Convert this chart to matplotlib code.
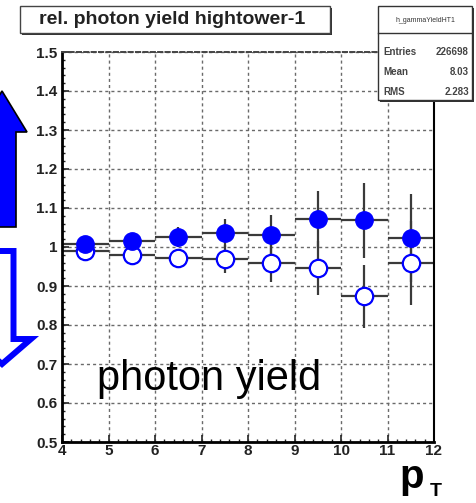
import matplotlib
matplotlib.use('Agg')
import matplotlib.pyplot as plt
from matplotlib.patches import Rectangle, Polygon
from matplotlib.ticker import MultipleLocator, FormatStrFormatter

plt.rcParams['font.family'] = ['Liberation Sans', 'DejaVu Sans']

# relative photon yield per pT bin (hightower-1)
pt_bins = [4.5, 5.5, 6.5, 7.5, 8.5, 9.5, 10.5, 11.5]
bin_half_width = [0.5] * 8
yield_up = [1.007, 1.015, 1.026, 1.035, 1.032, 1.071, 1.069, 1.022]
yield_up_err = [0.012, 0.015, 0.025, 0.036, 0.050, 0.072, 0.096, 0.113]
yield_down = [0.990, 0.980, 0.972, 0.970, 0.958, 0.946, 0.874, 0.959]
yield_down_err = [0.012, 0.015, 0.024, 0.036, 0.048, 0.070, 0.081, 0.107]

hist_name = 'h_gammaYieldHT1'
stat_labels = ['Entries', 'Mean', 'RMS']
stat_values = ['226698', '8.03', '2.283']

W, H = 476, 503
fig = plt.figure(figsize=(W / 100, H / 100), dpi=100)


def fx(px):
    return px / W


def fy(py):
    return 1 - py / H


ax = fig.add_axes([fx(62), fy(442), fx(434) - fx(62), fy(52) - fy(442)])
ax.set_xlim(4, 12)
ax.set_ylim(0.5, 1.5)

err_kw = dict(fmt='none', ecolor='#3a3a3a', elinewidth=1.6, capsize=0, zorder=2)
ax.errorbar(pt_bins, yield_up, xerr=bin_half_width, yerr=yield_up_err, **err_kw)
ax.errorbar(pt_bins, yield_down, xerr=bin_half_width, yerr=yield_down_err, **err_kw)
ax.plot(pt_bins, yield_down, linestyle='none', marker='o', markersize=12.5,
        markerfacecolor='white', markeredgecolor='#0000ff', markeredgewidth=1.6, zorder=3)
ax.plot(pt_bins, yield_up, linestyle='none', marker='o', markersize=12.5,
        markerfacecolor='#0000ff', markeredgecolor='#0000ff', zorder=4)

# ticks / grid
ax.xaxis.set_major_locator(MultipleLocator(1))
ax.xaxis.set_minor_locator(MultipleLocator(0.2))
ax.yaxis.set_major_locator(MultipleLocator(0.1))
ax.yaxis.set_minor_locator(MultipleLocator(0.02))
ax.yaxis.set_major_formatter(FormatStrFormatter('%g'))
ax.tick_params(which='both', direction='in', top=False, right=False, color='#222222')
ax.tick_params(which='major', length=5, width=1.2)
ax.tick_params(which='minor', length=2.5, width=1.0)
ax.tick_params(axis='y', pad=3.5)
ax.tick_params(axis='x', pad=1.5)
for lab in ax.get_xticklabels() + ax.get_yticklabels():
    lab.set_fontweight('bold')
    lab.set_fontsize(11)
    lab.set_color('#222222')
ax.grid(True, which='major', color='#6a6a6a', linestyle=(0, (2.2, 2.2)), linewidth=1.0)
ax.set_axisbelow(True)

ax.spines['left'].set_linewidth(2.0)
ax.spines['bottom'].set_linewidth(2.0)
ax.spines['right'].set_linewidth(1.5)
ax.spines['top'].set_linewidth(1.4)
ax.spines['top'].set_linestyle((0, (2.2, 1.6)))
ax.spines['top'].set_color('#444444')

# big labels
fig.text(fx(97), fy(390), 'photon yield', fontsize=30, ha='left', va='baseline', color='black')
fig.text(fx(399), fy(488), 'p', fontsize=29, fontweight='bold', ha='left', va='baseline')
fig.text(fx(430), fy(496), 'T', fontsize=14, fontweight='bold', ha='left', va='baseline')

# title box
fig.patches.append(Rectangle((fx(22), fy(35)), fx(332) - fx(22), fy(8) - fy(35),
                             transform=fig.transFigure, facecolor='#333333', edgecolor='none'))
fig.patches.append(Rectangle((fx(20), fy(33)), fx(330) - fx(20), fy(6) - fy(33),
                             transform=fig.transFigure, facecolor='white', edgecolor='#444444', lw=1.0))
fig.text(fx(172), fy(20), 'rel. photon yield hightower-1', fontsize=14, fontweight='bold',
         ha='center', va='center', color='#222222')

# stats box
fig.patches.append(Rectangle((fx(380), fy(102)), fx(474) - fx(380), fy(8) - fy(102),
                             transform=fig.transFigure, facecolor='#333333', edgecolor='none'))
fig.patches.append(Rectangle((fx(378), fy(100)), fx(472) - fx(378), fy(6) - fy(100),
                             transform=fig.transFigure, facecolor='white', edgecolor='#333333', lw=1.0))
fig.add_artist(plt.Line2D([fx(378), fx(472)], [fy(33), fy(33)], transform=fig.transFigure,
                          color='#333333', lw=1.0))
fig.text(fx(425), fy(20), hist_name, fontsize=5, ha='center', va='center', color='#333333')
for i, (lab, val) in enumerate(zip(stat_labels, stat_values)):
    yy = fy(52 + 20 * i)
    fig.text(fx(383), yy, lab, fontsize=7, fontweight='bold', ha='left', va='center', color='#444444')
    fig.text(fx(469), yy, val, fontsize=7, fontweight='bold', ha='right', va='center', color='#444444')

# arrows at the left edge
up_arrow = [(2, 91), (27, 132), (16, 132), (16, 227), (-12, 227), (-12, 132), (-23, 132)]
fig.patches.append(Polygon([(fx(a), fy(b)) for a, b in up_arrow], closed=True,
                           transform=fig.transFigure, facecolor='#0000ff', edgecolor='black',
                           lw=1.2, joinstyle='miter'))
down_arrow = [(-14, 251), (13.5, 251), (13.5, 339), (31, 339), (2, 364), (-27, 339), (-14, 339)]
fig.patches.append(Polygon([(fx(a), fy(b)) for a, b in down_arrow], closed=True,
                           transform=fig.transFigure, facecolor='white', edgecolor='#0000ff',
                           lw=4.3, joinstyle='miter'))

fig.savefig('out.png', dpi=100)
